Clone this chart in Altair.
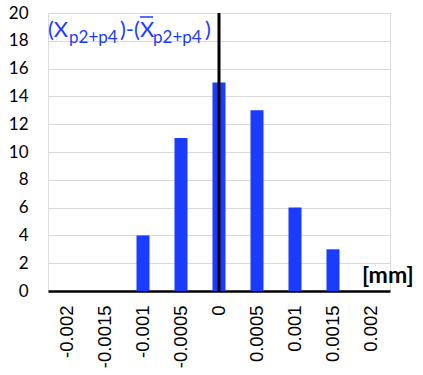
import altair as alt
import pandas as pd

# Histogram of deviations from the mean (bins in mm)
bins = ["-0.002", "-0.0015", "-0.001", "-0.0005", "0", "0.0005", "0.001", "0.0015", "0.002"]
counts = [0, 0, 4, 11, 15, 13, 6, 3, 0]

BLUE = "#1a3cff"
FONT = "Lato"
W, H = 342, 278

df = pd.DataFrame({"bin": bins, "count": counts})

xenc = alt.X(
    "bin:O",
    sort=bins,
    scale=alt.Scale(paddingInner=0, paddingOuter=0),
    axis=alt.Axis(
        title=None,
        labelAngle=-90,
        labelFontSize=18.5,
        labelFont="Liberation Sans",
        labelColor="black",
        labelPadding=14,
        ticks=False,
        domainColor="black",
        domainWidth=2.5,
    ),
)

bars = alt.Chart(df).mark_bar(size=13, color=BLUE).encode(
    x=xenc,
    y=alt.Y(
        "count:Q",
        scale=alt.Scale(domain=[0, 20], nice=False),
        axis=alt.Axis(
            title=None,
            values=list(range(0, 21, 2)),
            labelFontSize=17,
            labelFont=FONT,
            labelColor="black",
            labelPadding=20,
            ticks=False,
            domain=False,
            gridColor="#d9d9d9",
            gridWidth=1,
        ),
    ),
)

# zero line
zero = alt.Chart(pd.DataFrame({"bin": ["0"]})).mark_rule(color="black", strokeWidth=3).encode(
    x=alt.X("bin:O", sort=bins, bandPosition=0.5)
)

# series label: (X_p2+p4)-(X̄_p2+p4)
pieces = pd.DataFrame({
    "t": ["(X", "p2+p4", ")-(X", "p2+p4", ")"],
    "px": [0, 21, 72, 105, 157],
    "py": [24, 30, 24, 30, 24],
    "fs": [22, 17, 22, 17, 22],
})
label = alt.Chart(pieces).mark_text(align="left", baseline="alphabetic", font=FONT, color=BLUE).encode(
    text="t:N",
    x=alt.X("px:Q", scale=None),
    y=alt.Y("py:Q", scale=None),
    size=alt.Size("fs:Q", scale=None, legend=None),
)
overbar = alt.Chart(pd.DataFrame({"a": [0]})).mark_rule(color=BLUE, strokeWidth=1.5).encode(
    x=alt.value(92), x2=alt.value(105), y=alt.value(4)
)

unit = alt.Chart(pd.DataFrame({"t": ["[mm]"]})).mark_text(
    align="left", baseline="alphabetic", font=FONT, fontSize=23, fontWeight="bold", color="black"
).encode(text="t:N", x=alt.value(314), y=alt.value(270))

chart = alt.layer(bars, zero, label, overbar, unit).properties(
    width=W,
    height=H,
    autosize=alt.AutoSizeParams(type="none"),
    padding={"left": 48, "top": 13, "right": 33, "bottom": 84},
).configure_view(stroke=None).configure(background="white")

chart.save("out.html", embed_options={"renderer": "svg", "actions": False})
